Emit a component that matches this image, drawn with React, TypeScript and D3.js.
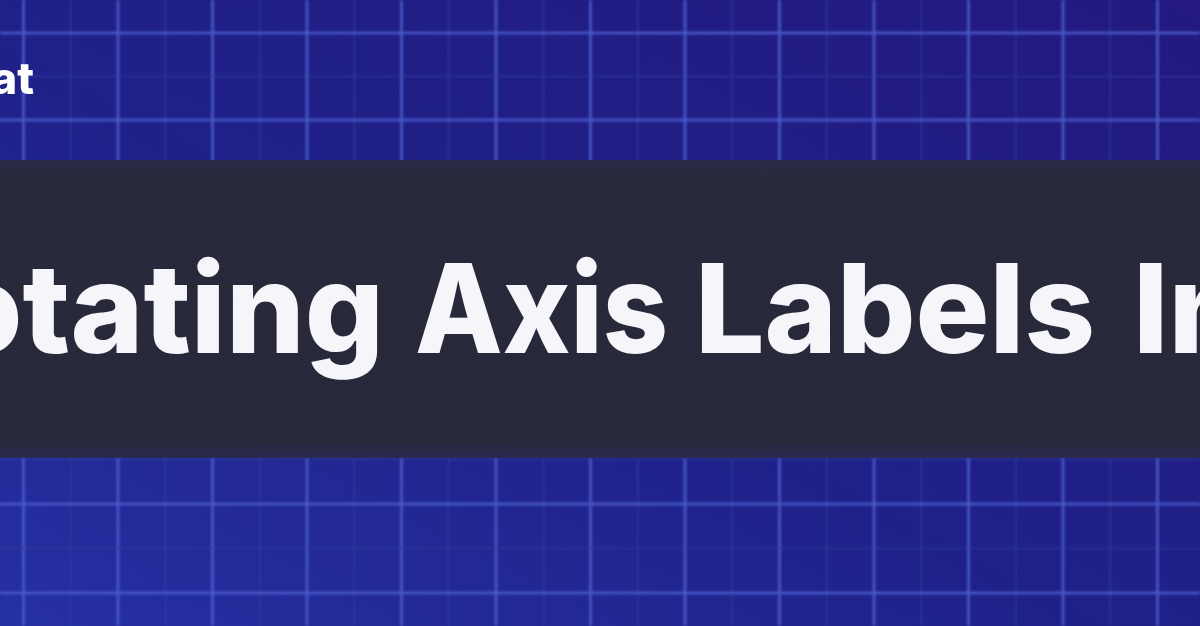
import * as d3 from "d3";
import React from "react";

// banner words, the first one runs off the left edge
const titleWords = ["Rotating", "Axis", "Labels", "In"];
const logoText = "at";

// grid cells (index along each axis); every other line is a major one
const colIndex = d3.range(-2, 25);
const rowTopIndex = d3.range(-2, 5);
const rowBottomIndex = d3.range(-2, 5);

const W = 1200;
const H = 626;
const band = { top: 160, bottom: 458 };

export default function App() {
  // half-cell spacing
  const x = d3.scaleLinear().domain([0, 2]).range([118, 212.5]);
  const yTop = d3.scaleLinear().domain([0, 2]).range([33, 120]);
  const yBottom = d3.scaleLinear().domain([0, 2]).range([504, 593]);

  const vLines = colIndex.map((i) => ({ pos: x(i), major: i % 2 === 0 }));
  const hLines = [
    ...rowTopIndex.map((i) => ({ pos: yTop(i), major: i % 2 === 0 })),
    ...rowBottomIndex.map((i) => ({ pos: yBottom(i), major: i % 2 === 0 })),
  ].filter((d) => d.pos > -20 && d.pos < H + 20);

  // word placement along the band
  const wordX = d3
    .scaleOrdinal<string, number>()
    .domain(titleWords)
    .range([384, 415, 695, 1133]);
  const wordLen: Record<string, number | undefined> = {
    Axis: 253,
    Labels: 400,
  };

  return (
    <svg
      width={W}
      height={H}
      style={{ position: "absolute", left: 0, top: 0 }}
      fontFamily="Inter, 'Noto Sans', sans-serif"
    >
      <defs>
        <linearGradient id="bg" x1="0" y1="1" x2="1" y2="0">
          <stop offset="0%" stopColor="#2530a2" />
          <stop offset="45%" stopColor="#1f2189" />
          <stop offset="100%" stopColor="#23197f" />
        </linearGradient>
        <linearGradient id="bandFill" x1="0" y1="0" x2="0" y2="1">
          <stop offset="0%" stopColor="#2a2a4a" />
          <stop offset="6%" stopColor="#29293c" />
          <stop offset="94%" stopColor="#27283a" />
          <stop offset="100%" stopColor="#2a2b50" />
        </linearGradient>
        <filter id="soft" x="-5%" y="-5%" width="110%" height="110%">
          <feGaussianBlur stdDeviation="1" />
        </filter>
        <filter id="textSoft">
          <feGaussianBlur stdDeviation="0.7" />
        </filter>
      </defs>

      <rect width={W} height={H} fill="url(#bg)" />

      <g filter="url(#soft)">
        {vLines.map((d, i) => (
          <line
            key={"v" + i}
            x1={d.pos}
            x2={d.pos}
            y1={0}
            y2={H}
            stroke={d.major ? "#4b5ccb" : "#3440a0"}
            strokeWidth={d.major ? 3 : 2}
            opacity={d.major ? 0.85 : 0.5}
          />
        ))}
        {hLines.map((d, i) => (
          <line
            key={"h" + i}
            x1={0}
            x2={W}
            y1={d.pos}
            y2={d.pos}
            stroke={d.major ? "#4b5ccb" : "#3440a0"}
            strokeWidth={d.major ? 3 : 2}
            opacity={d.major ? 0.85 : 0.5}
          />
        ))}
      </g>

      <rect
        x={0}
        y={band.top}
        width={W}
        height={band.bottom - band.top}
        fill="url(#bandFill)"
      />

      <g filter="url(#textSoft)" fill="#f6f6fa" fontWeight={800} fontSize={124}>
        {titleWords.map((w) => (
          <text
            key={w}
            x={wordX(w)}
            y={353}
            textAnchor={w === "Rotating" ? "end" : "start"}
            textLength={wordLen[w]}
            lengthAdjust={wordLen[w] ? "spacingAndGlyphs" : undefined}
          >
            {w}
          </text>
        ))}
      </g>

      <text
        x={34}
        y={94}
        textAnchor="end"
        fill="#ffffff"
        fontWeight={800}
        fontSize={44}
        filter="url(#textSoft)"
      >
        {logoText}
      </text>
    </svg>
  );
}
